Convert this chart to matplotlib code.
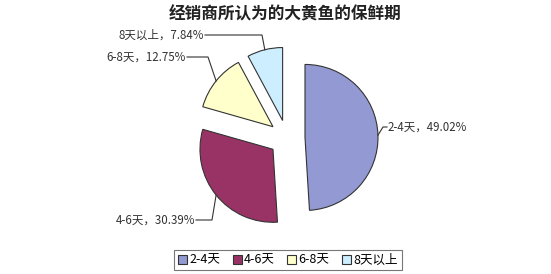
import numpy as np
import matplotlib.pyplot as plt

plt.rcParams['font.family'] = ['Noto Sans CJK SC', 'DejaVu Sans']

# data
categories = ['2-4天', '4-6天', '6-8天', '8天以上']
shares = [49.02, 30.39, 12.75, 7.84]
colors = ['#9399d2', '#993366', '#ffffcc', '#cceeff']
title = '经销商所认为的大黄鱼的保鲜期'

W, H = 551, 274
fig = plt.figure(figsize=(W / 100, H / 100), dpi=100, facecolor='white')
ax = fig.add_axes([0, 0, 1, 1])

# pie, in pixel-like data units
cx, cy, r = 287, H - 138, 73
wedges, _ = ax.pie(shares, colors=colors, startangle=90, counterclock=False,
                   center=(cx, cy), radius=r, explode=[18] * 4,
                   wedgeprops=dict(edgecolor='#333333', linewidth=0.8))
ax.set_xlim(0, W)
ax.set_ylim(0, H)
ax.set_aspect('equal')
ax.axis('off')

# label text position (image coords, left/right anchor) and elbow of leader
label_pos = [(387, 127, 'left'), (196, 220, 'right'), (187, 57, 'right'), (205, 35, 'right')]
elbows = [(383, 127), (212, 220), (208, 57), (262, 35)]

for w, cat, pct, (tx, ty, ha), (ex, ey) in zip(wedges, categories, shares, label_pos, elbows):
    ang = np.deg2rad((w.theta1 + w.theta2) / 2)
    px = w.center[0] + w.r * np.cos(ang)
    py = w.center[1] + w.r * np.sin(ang)
    ax.plot([tx, ex, px], [H - ty, H - ey, py], color='#333333', lw=0.8)
    ax.text(tx + (1 if ha == 'left' else -1), H - ty, f'{cat}，{pct:.2f}%',
            ha=ha, va='center', fontsize=8.3, color='#333333')

fig.text(285 / W, 1 - 14 / H, title, ha='center', va='center',
         fontsize=12, fontweight='bold', color='#222222')

leg = ax.legend(wedges, categories, loc='center', bbox_to_anchor=(288 / W, 1 - 260 / H),
                ncol=4, fontsize=9, frameon=True, fancybox=False, edgecolor='#555555',
                handlelength=0.7, handleheight=0.7, handletextpad=0.2, columnspacing=1.0,
                borderpad=0.3, borderaxespad=0)
leg.get_frame().set_linewidth(0.8)

fig.savefig('out.png', dpi=100, facecolor='white')
